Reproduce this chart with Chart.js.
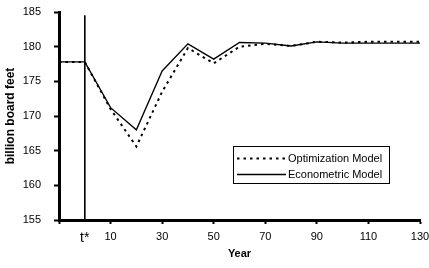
<!DOCTYPE html>
<html>
<head>
<meta charset="utf-8">
<script src="https://cdn.jsdelivr.net/npm/chart.js@4"></script>
<style>
  html, body { margin: 0; padding: 0; background: #fff; }
  #wrap { width: 429px; height: 268px; }
</style>
</head>
<body>
<div id="wrap"><canvas id="myChart"></canvas></div>
<script>
const years = [-10, 0, 10, 20, 30, 40, 50, 60, 70, 80, 90, 100, 110, 120, 130];
const optimization = [177.8, 177.8, 171.0, 165.6, 173.5, 179.8, 177.6, 180.0, 180.4, 180.1, 180.7, 180.6, 180.7, 180.7, 180.7];
const econometric = [177.8, 177.8, 171.2, 168.0, 176.5, 180.4, 178.2, 180.6, 180.5, 180.1, 180.7, 180.5, 180.5, 180.5, 180.5];
const xTicks = [-10, 0, 10, 30, 50, 70, 90, 110, 130];
const tStar = 0;
const tStarLine = [184.5, 155];

const toPoints = (ys) => ys.map((y, i) => ({x: years[i], y: y}));

// legend box drawn inside the plot, lower right
const boxLegend = {
  id: "boxLegend",
  afterDraw(chart) {
    const ctx = chart.ctx;
    const x0 = 233, y0 = 146, w = 156, h = 37;
    ctx.save();
    ctx.fillStyle = "#fff";
    ctx.fillRect(x0, y0, w, h);
    ctx.strokeStyle = "#000";
    ctx.lineWidth = 1;
    ctx.strokeRect(x0 + 0.5, y0 + 0.5, w, h);
    const items = chart.data.datasets.filter(d => d.label);
    items.forEach((d, i) => {
      const y = y0 + 12.5 + i * 16;
      ctx.beginPath();
      ctx.setLineDash(d.borderDash || []);
      ctx.lineWidth = d.borderWidth;
      ctx.strokeStyle = d.borderColor;
      ctx.moveTo(237, y);
      ctx.lineTo(286, y);
      ctx.stroke();
      ctx.setLineDash([]);
      ctx.fillStyle = "#000";
      ctx.font = "11px 'Liberation Sans', Arial, sans-serif";
      ctx.textBaseline = "middle";
      ctx.fillText(d.label, 288, y + 0.5);
    });
    ctx.restore();
  }
};

new Chart("myChart", {
  type: "line",
  data: {
    datasets: [{
      label: "Optimization Model",
      data: toPoints(optimization),
      borderColor: "#000",
      borderWidth: 2,
      borderDash: [2.5, 4],
      pointRadius: 0,
      tension: 0,
      fill: false
    }, {
      label: "Econometric Model",
      data: toPoints(econometric),
      borderColor: "#000",
      borderWidth: 1.3,
      pointRadius: 0,
      tension: 0,
      fill: false
    }, {
      data: tStarLine.map(y => ({x: tStar, y: y})),
      borderColor: "#000",
      borderWidth: 1,
      pointRadius: 0
    }]
  },
  options: {
    responsive: true,
    maintainAspectRatio: false,
    animation: false,
    layout: {padding: {top: 12, right: 9, left: 0, bottom: 0}},
    plugins: {
      legend: {display: false},
      tooltip: {enabled: false}
    },
    scales: {
      x: {
        type: "linear",
        min: -10,
        max: 130,
        afterBuildTicks: (scale) => { scale.ticks = xTicks.map(v => ({value: v})); },
        afterFit: (scale) => {
          scale.height = 48;
          scale.paddingLeft = 0;
          scale.paddingRight = 0;
        },
        grid: {
          drawOnChartArea: false,
          drawTicks: true,
          tickLength: 4,
          tickWidth: 2,
          tickColor: (c) => (c.tick && c.tick.value === tStar) ? "rgba(0,0,0,0)" : "#000"
        },
        border: {display: true, color: "#000", width: 3},
        ticks: {
          color: "#000",
          padding: 6,
          maxRotation: 0,
          autoSkip: false,
          font: (c) => (c.tick && c.tick.value === tStar)
            ? {family: "'Liberation Sans', Arial, sans-serif", size: 14}
            : {family: "'Liberation Sans', Arial, sans-serif", size: 11},
          callback: (v) => v === tStar ? "t*" : (v === -10 ? "" : v)
        },
        title: {
          display: true,
          text: "Year",
          color: "#000",
          font: {family: "'Liberation Sans', Arial, sans-serif", size: 11, weight: "bold"},
          padding: {top: 0, bottom: 7}
        }
      },
      y: {
        min: 155,
        max: 185,
        afterFit: (scale) => {
          scale.width = 59;
          scale.paddingTop = 0;
          scale.paddingBottom = 0;
        },
        grid: {
          drawOnChartArea: false,
          drawTicks: true,
          tickLength: 5,
          tickWidth: 2,
          tickColor: "#000"
        },
        border: {display: true, color: "#000", width: 3},
        ticks: {
          stepSize: 5,
          color: "#000",
          padding: 13,
          font: {family: "'Liberation Sans', Arial, sans-serif", size: 11}
        },
        title: {
          display: true,
          text: "billion board feet",
          color: "#000",
          font: {family: "'Liberation Sans', Arial, sans-serif", size: 12, weight: "bold"},
          padding: {top: 3, bottom: 0}
        }
      }
    }
  },
  plugins: [boxLegend]
});
</script>
</body>
</html>
